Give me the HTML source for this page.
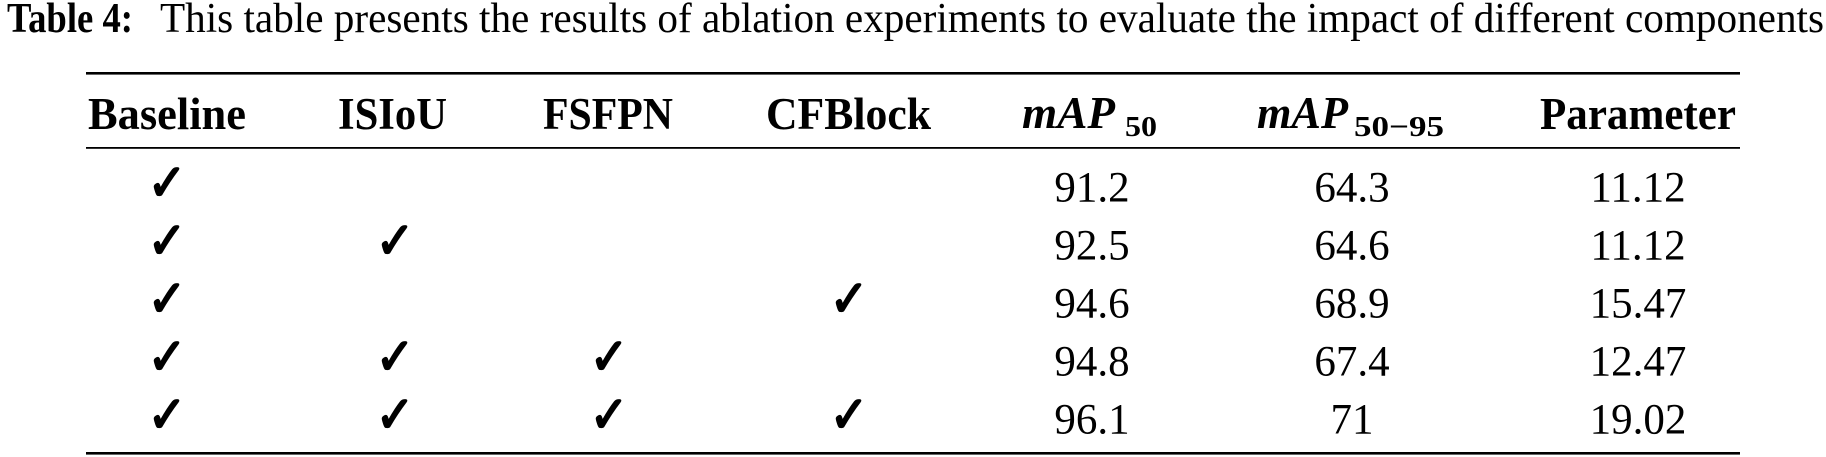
<!DOCTYPE html>
<html>
<head>
<meta charset="utf-8">
<style>
  html,body{margin:0;padding:0;background:#fff;}
  svg{display:block;}
  .cap{font-family:"Liberation Serif",serif;font-size:42px;fill:#000;}
  .hd{font-family:"Liberation Serif",serif;font-size:45px;font-weight:bold;fill:#000;}
  .mi{font-family:"Liberation Serif",serif;font-size:46px;font-weight:bold;font-style:italic;fill:#000;}
  .sub{font-family:"Liberation Serif",serif;font-size:29px;font-weight:bold;fill:#000;}
  .num{font-family:"Liberation Serif",serif;font-size:43px;fill:#000;}
  .ck{font-family:"DejaVu Sans",sans-serif;font-size:46px;fill:#000;stroke:#000;stroke-width:1.8;}
</style>
</head>
<body>
<svg width="1826" height="457" viewBox="0 0 1826 457" xmlns="http://www.w3.org/2000/svg">
  <!-- Caption -->
  <text class="cap" x="7" y="32" font-weight="bold" textLength="126" lengthAdjust="spacingAndGlyphs">Table 4:</text>
  <text class="cap" x="160" y="32" textLength="1664" lengthAdjust="spacingAndGlyphs">This table presents the results of ablation experiments to evaluate the impact of different components</text>

  <!-- Rules -->
  <rect x="86" y="72" width="1654" height="2.6" fill="#000"/>
  <rect x="86" y="147" width="1654" height="1.8" fill="#000"/>
  <rect x="86" y="452" width="1654" height="2.6" fill="#000"/>

  <!-- Header -->
  <text class="hd" x="88" y="129" textLength="158" lengthAdjust="spacingAndGlyphs">Baseline</text>
  <text class="hd" x="338" y="129" textLength="109" lengthAdjust="spacingAndGlyphs">ISIoU</text>
  <text class="hd" x="543" y="129" textLength="130" lengthAdjust="spacingAndGlyphs">FSFPN</text>
  <text class="hd" x="766" y="129" textLength="165" lengthAdjust="spacingAndGlyphs">CFBlock</text>
  <text class="mi" x="1022" y="128" textLength="93" lengthAdjust="spacingAndGlyphs">mAP</text>
  <text class="sub" x="1125" y="136" textLength="32" lengthAdjust="spacingAndGlyphs">50</text>
  <text class="mi" x="1257" y="128" textLength="91" lengthAdjust="spacingAndGlyphs">mAP</text>
  <text class="sub" x="1354" y="136" textLength="90" lengthAdjust="spacingAndGlyphs">50−95</text>
  <text class="hd" x="1540" y="129" textLength="196" lengthAdjust="spacingAndGlyphs">Parameter</text>

  <!-- Checks (scaled slightly taller) -->
  <g transform="translate(0,-20) scale(1,1.1)">
    <text class="ck" x="167" y="200" text-anchor="middle">✓</text>

    <text class="ck" x="167" y="252.7" text-anchor="middle">✓</text>
    <text class="ck" x="395" y="252.7" text-anchor="middle">✓</text>

    <text class="ck" x="167" y="305.5" text-anchor="middle">✓</text>
    <text class="ck" x="849" y="305.5" text-anchor="middle">✓</text>

    <text class="ck" x="167" y="358.2" text-anchor="middle">✓</text>
    <text class="ck" x="395" y="358.2" text-anchor="middle">✓</text>
    <text class="ck" x="609" y="358.2" text-anchor="middle">✓</text>

    <text class="ck" x="167" y="410.9" text-anchor="middle">✓</text>
    <text class="ck" x="395" y="410.9" text-anchor="middle">✓</text>
    <text class="ck" x="609" y="410.9" text-anchor="middle">✓</text>
    <text class="ck" x="849" y="410.9" text-anchor="middle">✓</text>
  </g>

  <!-- Numbers -->
  <text class="num" x="1092" y="201.5" text-anchor="middle">91.2</text>
  <text class="num" x="1352" y="201.5" text-anchor="middle">64.3</text>
  <text class="num" x="1638" y="201.5" text-anchor="middle">11.12</text>

  <text class="num" x="1092" y="259.5" text-anchor="middle">92.5</text>
  <text class="num" x="1352" y="259.5" text-anchor="middle">64.6</text>
  <text class="num" x="1638" y="259.5" text-anchor="middle">11.12</text>

  <text class="num" x="1092" y="317.5" text-anchor="middle">94.6</text>
  <text class="num" x="1352" y="317.5" text-anchor="middle">68.9</text>
  <text class="num" x="1638" y="317.5" text-anchor="middle">15.47</text>

  <text class="num" x="1092" y="375.5" text-anchor="middle">94.8</text>
  <text class="num" x="1352" y="375.5" text-anchor="middle">67.4</text>
  <text class="num" x="1638" y="375.5" text-anchor="middle">12.47</text>

  <text class="num" x="1092" y="433.5" text-anchor="middle">96.1</text>
  <text class="num" x="1352" y="433.5" text-anchor="middle">71</text>
  <text class="num" x="1638" y="433.5" text-anchor="middle">19.02</text>
</svg>
</body>
</html>
